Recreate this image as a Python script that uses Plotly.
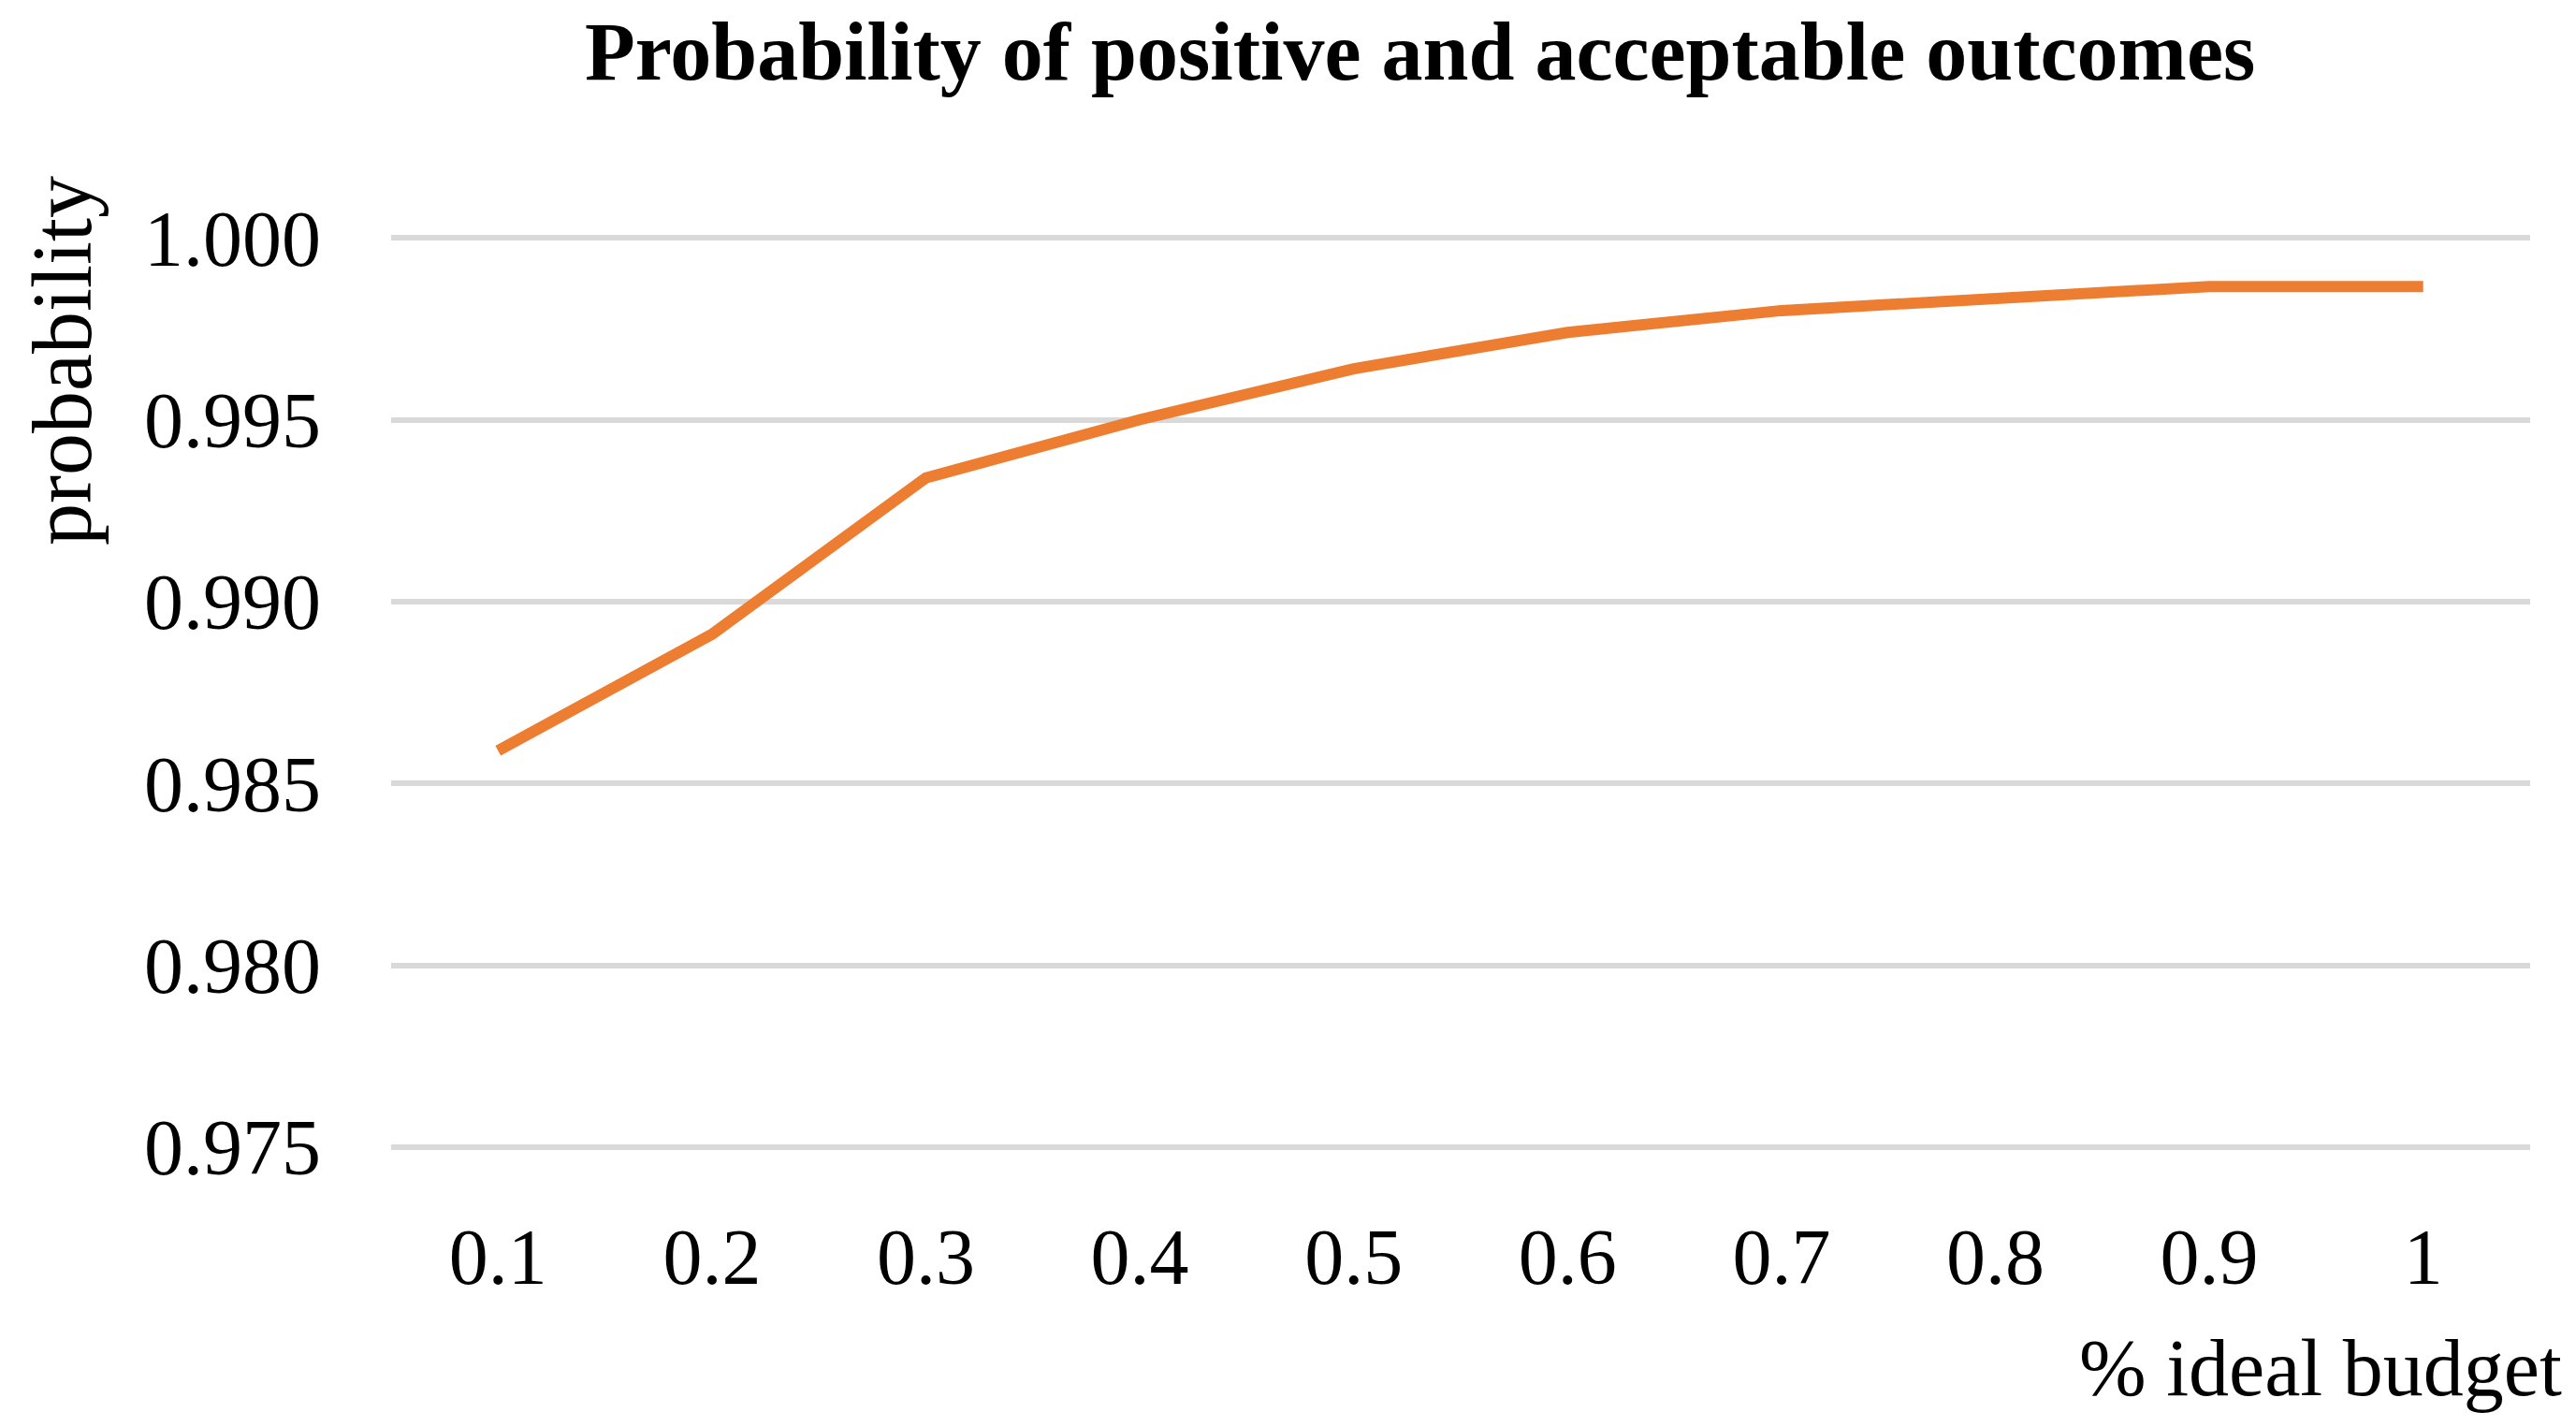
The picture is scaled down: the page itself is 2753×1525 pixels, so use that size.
import plotly.graph_objects as go

# % of ideal budget (category axis) and the probability
budget_labels = ["0.1", "0.2", "0.3", "0.4", "0.5", "0.6", "0.7", "0.8", "0.9", "1"]
probability = [0.9859, 0.9891, 0.9934, 0.9950, 0.9964, 0.9974, 0.9980, 0.9983, 0.99866, 0.99866]
y_ticks = [0.975, 0.980, 0.985, 0.990, 0.995, 1.000]

OFF = 8  # default body margin of the html page
W, H = 2753 - OFF, 1525 - OFF
L, R, T, B = 418 - OFF, 49, 253 - OFF, 298
pw, ph = W - L - R, H - T - B


def px(x):
    # page pixel -> paper coordinate
    return (x - OFF - L) / pw


def py(y):
    return (H - B - (y - OFF)) / ph


serif = "Liberation Serif"

fig = go.Figure()
fig.add_trace(go.Scatter(x=budget_labels, y=probability, mode="lines",
                         line=dict(color="#ED7D31", width=12)))

fig.update_layout(
    width=W, height=H,
    margin=dict(l=L, r=R, t=T, b=B),
    paper_bgcolor="white", plot_bgcolor="white",
    showlegend=False,
    font=dict(family=serif, size=82, color="black"),
)
fig.update_xaxes(type="category", range=[-0.5, 9.5], showgrid=False,
                 zeroline=False, showline=False, ticks="",
                 tickfont=dict(family=serif, size=84), ticklabelstandoff=60)
fig.update_yaxes(range=[0.97497, 1.00003], tickvals=y_ticks, tickformat=".3f",
                 showgrid=True, gridcolor="#D9D9D9", gridwidth=6,
                 zeroline=False, showline=False, ticks="",
                 tickfont=dict(family=serif, size=84), ticklabelstandoff=74)

fig.add_annotation(text="<b>Probability of positive and acceptable outcomes</b>",
                   xref="paper", yref="paper", x=px(1517), y=py(56),
                   xanchor="center", yanchor="middle", showarrow=False,
                   borderpad=0,
                   font=dict(family=serif, size=88, color="black"))
fig.add_annotation(text="probability", textangle=-90,
                   xref="paper", yref="paper", x=px(66), y=py(386),
                   xanchor="center", yanchor="middle", showarrow=False,
                   font=dict(family=serif, size=90, color="black"))
fig.add_annotation(text="% ideal budget",
                   xref="paper", yref="paper", x=px(2740), y=py(1462),
                   xanchor="right", yanchor="middle", showarrow=False,
                   font=dict(family=serif, size=86, color="black"))

fig.write_html("out.html")
